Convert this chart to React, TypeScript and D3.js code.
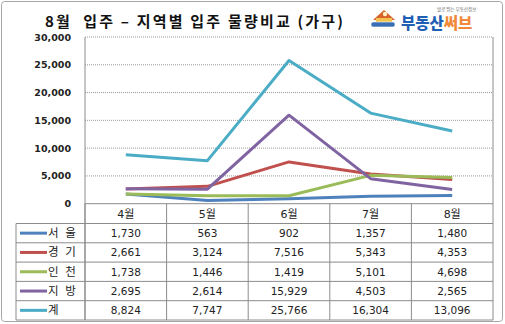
import React from "react";
import * as d3 from "d3";

const months = ["4월", "5월", "6월", "7월", "8월"];
const seriesNames = ["서 울", "경 기", "인 천", "지 방", "계"];
const seoul = [1730, 563, 902, 1357, 1480];
const gyeonggi = [2661, 3124, 7516, 5343, 4353];
const incheon = [1738, 1446, 1419, 5101, 4698];
const local = [2695, 2614, 15929, 4503, 2565];
const total = [8824, 7747, 25766, 16304, 13096];
const yTicks = [0, 5000, 10000, 15000, 20000, 25000, 30000];
const colors = ["#4F81BD", "#C0504D", "#9BBB59", "#8064A2", "#4BACC6"];

const W = 505;
const H = 324;
const plotL = 85;
const plotR = 493;
const plotT = 37;
const plotB = 203.7;
const headerB = 223.5;
const rowH = 19.3;
const legendL = 16;

export default function App() {
  const series = [seoul, gyeonggi, incheon, local, total];
  const x = d3.scaleBand<string>().domain(months).range([plotL, plotR]).padding(0);
  const cx = (m: string) => (x(m) as number) + x.bandwidth() / 2;
  const y = d3.scaleLinear().domain([0, 30000]).range([plotB, plotT]);
  const line = d3
    .line<number>()
    .x((_, i) => cx(months[i]))
    .y((d) => y(d));
  const fmt = d3.format(",");
  const tableFont = "'DejaVu Sans', 'Noto Sans CJK KR', sans-serif";
  const tableBottom = headerB + rowH * series.length;

  return (
    <svg
      width={W}
      height={H}
      style={{ position: "absolute", left: 0, top: 0, background: "#fff" }}
    >
      <rect x={1.5} y={1.5} width={501} height={320} rx={3} fill="#fff" stroke="#a6a6a6" strokeWidth={1} />

      {/* Title */}
      <text
        x={45}
        y={27}
        fontFamily="'Noto Sans CJK KR', sans-serif"
        fontWeight="bold"
        fontSize={15}
        fill="#111"
        textLength={298}
        lengthAdjust="spacing"
        style={{ whiteSpace: "pre" }}
      >
        {"8월  입주 – 지역별 입주 물량비교 (가구)"}
      </text>

      {/* Logo */}
      <g>
        <path d="M373,20 L384,10 L395,20 Z" fill="#d9622b" />
        <rect x={376} y={18} width={16} height={9} fill="#f2c14e" />
        <rect x={371} y={22} width={24} height={5} rx={2} fill="#3a6fb5" stroke="#fff" strokeWidth={0.6} />
        <circle cx={385} cy={14} r={2.2} fill="#fff3c4" />
        <text x={437} y={11} fontFamily="'Noto Sans CJK KR', sans-serif" fontSize={4.5} fill="#666">
          발로 뛰는 부동산정보
        </text>
        <text x={401} y={29} fontFamily="'Noto Sans CJK KR', sans-serif" fontWeight={900} fontSize={15.5}>
          <tspan fill="#1f5fb4">부동산</tspan>
          <tspan fill="#f08a3a">써브</tspan>
        </text>
      </g>

      {/* gridlines */}
      {yTicks.filter((t) => t > 0).map((t) => (
        <line
          key={t}
          x1={plotL}
          x2={plotR}
          y1={y(t)}
          y2={y(t)}
          stroke="#9a9a9a"
          strokeWidth={1}
          strokeDasharray="1 1"
        />
      ))}
      {/* axes */}
      <line x1={plotL} x2={plotL} y1={plotT} y2={tableBottom} stroke="#8c8c8c" />
      <line x1={plotR} x2={plotR} y1={plotT} y2={tableBottom} stroke="#8c8c8c" />
      <line x1={plotL} x2={plotR} y1={plotB} y2={plotB} stroke="#8c8c8c" />

      {yTicks.map((t) => (
        <text
          key={t}
          x={71}
          y={y(t) + 3.5}
          textAnchor="end"
          fontFamily="'DejaVu Sans', sans-serif"
          fontWeight="bold"
          fontSize={9.5}
          fill="#222"
        >
          {fmt(t)}
        </text>
      ))}

      {/* lines */}
      {series.map((s, i) => (
        <path
          key={i}
          d={line(s) as string}
          fill="none"
          stroke={colors[i]}
          strokeWidth={3}
          strokeLinejoin="round"
        />
      ))}

      {/* table */}
      {months.map((m) => (
        <g key={m}>
          <line
            x1={x(m) as number}
            x2={x(m) as number}
            y1={plotB}
            y2={tableBottom}
            stroke="#8c8c8c"
          />
          <text
            x={cx(m)}
            y={(plotB + headerB) / 2 + 4}
            textAnchor="middle"
            fontFamily={tableFont}
            fontSize={11}
            fill="#222"
          >
            {m}
          </text>
        </g>
      ))}
      {series.map((s, i) => {
        const top = headerB + rowH * i;
        const mid = top + rowH / 2;
        return (
          <g key={i}>
            <line x1={legendL} x2={plotR} y1={top} y2={top} stroke="#8c8c8c" />
            <line x1={20} x2={47} y1={mid} y2={mid} stroke={colors[i]} strokeWidth={3} />
            <text
              x={48}
              y={mid + 4}
              fontFamily={tableFont}
              fontSize={11.5}
              fill="#222"
              letterSpacing={1.5}
            >
              {seriesNames[i]}
            </text>
            {s.map((v, j) => (
              <text
                key={j}
                x={cx(months[j])}
                y={mid + 4}
                textAnchor="middle"
                fontFamily={tableFont}
                fontSize={10.5}
                fill="#222"
              >
                {fmt(v)}
              </text>
            ))}
          </g>
        );
      })}
      <line x1={legendL} x2={plotR} y1={tableBottom} y2={tableBottom} stroke="#8c8c8c" />
      <line x1={legendL} x2={legendL} y1={headerB} y2={tableBottom} stroke="#8c8c8c" />
    </svg>
  );
}
